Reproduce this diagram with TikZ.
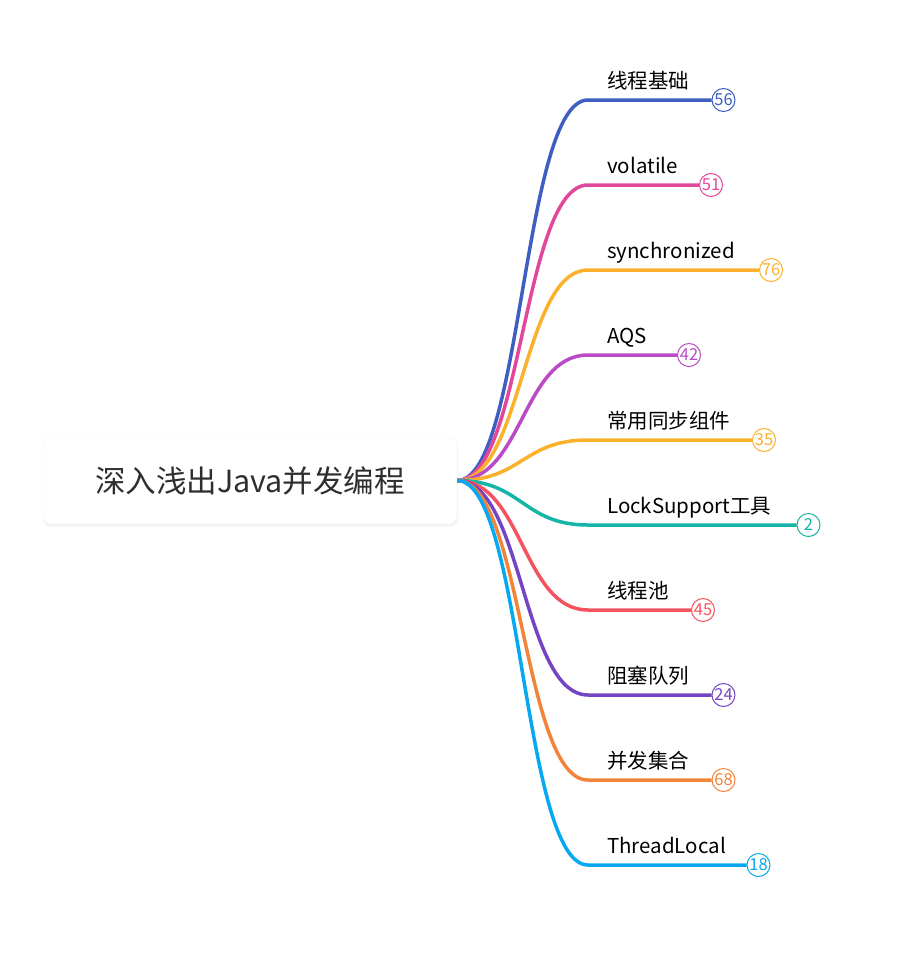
\documentclass[tikz,border=0pt]{standalone}
\usepackage{fontspec}
\setmainfont{Noto Sans CJK SC}
\usepackage{tikz}

\definecolor{cBlue}{HTML}{3E5EC2}
\definecolor{cPink}{HTML}{E2479B}
\definecolor{cGold}{HTML}{FBB12B}
\definecolor{cPurple}{HTML}{BA4AC6}
\definecolor{cTeal}{HTML}{14B5A6}
\definecolor{cRed}{HTML}{F5525F}
\definecolor{cViolet}{HTML}{7445C2}
\definecolor{cOrange}{HTML}{F2843A}
\definecolor{cSky}{HTML}{06A8F2}

\begin{document}
\begin{tikzpicture}[x=1pt, y=-1pt,
    br/.style={line width=3.5pt},
    lbl/.style={anchor=base west, inner sep=0pt, font=\fontsize{20.5}{24}\selectfont},
    badge/.style={circle, draw=#1, text=#1, fill=white, line width=1pt, minimum size=23pt, inner sep=0pt, font=\fontsize{16.5}{17}\selectfont}]
        \useasboundingbox (0,0) rectangle (901,969);
        % root box with its soft shadow
        \fill[black!5, rounded corners=8pt] (43,439) rectangle (458,526.5);
        \node[draw=black!4, fill=white, rounded corners=8pt, minimum width=414pt, minimum height=87pt, text=black!82, font=\fontsize{30.5}{34}\selectfont] (R) at (250,480.5) {深入浅出Java并发编程};

        % branch ends and badges
        \coordinate (U1) at (588,100);
        \coordinate (U2) at (588,185);
        \coordinate (U3) at (588,270);
        \coordinate (U4) at (588,355);
        \coordinate (U5) at (588,440);
        \coordinate (U6) at (588,525);
        \coordinate (U7) at (588,610);
        \coordinate (U8) at (588,695);
        \coordinate (U9) at (588,780);
        \coordinate (U10) at (588,865);
        \node[badge=cBlue] (B1) at (723.5,100) {56};
        \node[badge=cPink] (B2) at (711,185) {51};
        \node[badge=cGold] (B3) at (771,270) {76};
        \node[badge=cPurple] (B4) at (689,355) {42};
        \node[badge=cGold] (B5) at (764,440) {35};
        \node[badge=cTeal] (B6) at (808.5,525) {2};
        \node[badge=cRed] (B7) at (703,610) {45};
        \node[badge=cViolet] (B8) at (723.5,695) {24};
        \node[badge=cOrange] (B9) at (723.5,780) {68};
        \node[badge=cSky] (B10) at (758.5,865) {18};

        % branches
        \draw[br, cBlue] (R.east) .. controls (522.5,480.5) and (522.5,100) .. (U1) -- (B1.west);
        \draw[br, cPink] (R.east) .. controls (522.5,480.5) and (522.5,185) .. (U2) -- (B2.west);
        \draw[br, cGold] (R.east) .. controls (522.5,480.5) and (522.5,270) .. (U3) -- (B3.west);
        \draw[br, cPurple] (R.east) .. controls (522.5,480.5) and (522.5,355) .. (U4) -- (B4.west);
        \draw[br, cGold] (R.east) .. controls (522.5,480.5) and (522.5,440) .. (U5) -- (B5.west);
        \draw[br, cTeal] (R.east) .. controls (522.5,480.5) and (522.5,525) .. (U6) -- (B6.west);
        \draw[br, cRed] (R.east) .. controls (522.5,480.5) and (522.5,610) .. (U7) -- (B7.west);
        \draw[br, cViolet] (R.east) .. controls (522.5,480.5) and (522.5,695) .. (U8) -- (B8.west);
        \draw[br, cOrange] (R.east) .. controls (522.5,480.5) and (522.5,780) .. (U9) -- (B9.west);
        \draw[br, cSky] (R.east) .. controls (522.5,480.5) and (522.5,865) .. (U10) -- (B10.west);

        % labels
        \node[lbl] (N1) at (607,88) {线程基础};
        \node[lbl] (N2) at (607,173) {volatile};
        \node[lbl] (N3) at (607,258) {synchronized};
        \node[lbl] (N4) at (607,343) {AQS};
        \node[lbl] (N5) at (607,428) {常用同步组件};
        \node[lbl] (N6) at (607,513) {LockSupport工具};
        \node[lbl] (N7) at (607,598) {线程池};
        \node[lbl] (N8) at (607,683) {阻塞队列};
        \node[lbl] (N9) at (607,768) {并发集合};
        \node[lbl] (N10) at (607,853) {ThreadLocal};
      \end{tikzpicture}
\end{document}
